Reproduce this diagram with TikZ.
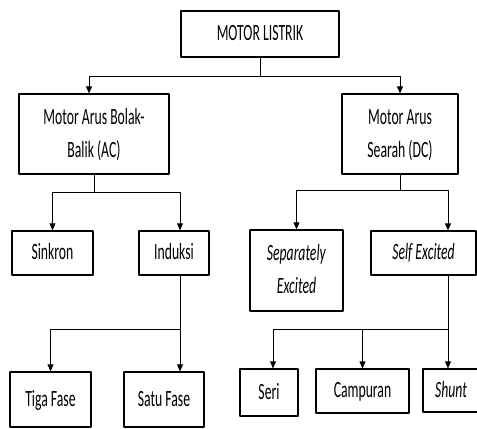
\documentclass[tikz,border=0pt]{standalone}
\usepackage{fontspec}
\setmainfont{Carlito}
\usepackage{graphicx}
\usetikzlibrary{arrows.meta,calc}
\newcommand{\tinggi}[1]{\scalebox{1}[1.7]{\begin{tabular}{@{}c@{}}#1\end{tabular}}}
\begin{document}
\begin{tikzpicture}[>={Triangle[length=6pt,width=5pt]},line join=round,x=0.03cm,y=-0.03cm,
  font=\fontsize{11.7}{16.6}\selectfont,
  kotak/.style={draw,line width=.9pt,inner sep=0pt},
  panah/.style={->,line width=.8pt}]
\def\px{0.03cm}
\useasboundingbox (0,0) rectangle (477,429);
\clip (0,0) rectangle (477,429);
% kotak-kotak
\node[kotak,minimum width=158*\px,minimum height=46*\px] (motor) at (260,34) {\tinggi{MOTOR LISTRIK}};
\node[kotak,minimum width=150*\px,minimum height=80*\px] (ac) at (94,134) {\tinggi{Motor Arus Bolak-\\Balik (AC)}};
\node[kotak,minimum width=116*\px,minimum height=80*\px] (dc) at (400,134) {\tinggi{Motor Arus\\Searah (DC)}};
\node[kotak,minimum width=81*\px,minimum height=44*\px] (sinkron) at (52.5,253) {\tinggi{Sinkron}};
\node[kotak,minimum width=70*\px,minimum height=44*\px] (induksi) at (174,253) {\tinggi{Induksi}};
\node[kotak,minimum width=93*\px,minimum height=81*\px] (separately) at (296.5,270.5) {\tinggi{\textit{Separately}\\\textit{Excited}}};
\node[kotak,minimum width=105*\px,minimum height=44*\px] (self) at (423.5,253) {\tinggi{\textit{Self Excited}}};
\node[kotak,minimum width=81*\px,minimum height=55*\px] (tiga) at (50.5,399.5) {\tinggi{Tiga Fase}};
\node[kotak,minimum width=80*\px,minimum height=55*\px] (satu) at (164,399.5) {\tinggi{Satu Fase}};
\node[kotak,minimum width=58*\px,minimum height=47*\px] (seri) at (269,392.5) {\tinggi{Seri}};
\node[kotak,minimum width=93*\px,minimum height=44*\px] (campuran) at (362.5,391) {\tinggi{Campuran}};
\node[kotak,minimum width=56*\px,minimum height=43*\px] (shunt) at (451,390.5) {\tinggi{\textit{Shunt}}};
% penghubung
\draw[line width=.8pt] (motor.south) -- ++(0,19) coordinate (c1);
\draw[panah] (c1) -| ($(ac.north)+(-5,0)$);
\draw[panah] (c1) -| (dc.north);
\draw[line width=.8pt] (ac.south) -- ++(0,18) coordinate (c2);
\draw[panah] (c2) -| (sinkron.north);
\draw[panah] (c2) -| ($(induksi.north)+(6,0)$);
\draw[panah] ($(induksi.south)+(6,0)$) coordinate (c3) -- (c3 |- satu.north);
\draw[panah] ($(c3)+(0,54)$) -| (tiga.north);
\draw[line width=.8pt] (dc.south) -- ++(0,16) coordinate (c4);
\draw[panah] (c4) -| (separately.north);
\draw[panah] (c4) -| ($(self.north)+(24.5,0)$);
\draw[panah] ($(self.south)+(24.5,0)$) coordinate (c5) -- (c5 |- shunt.north);
\draw[panah] ($(c5)+(0,54)$) -| ($(seri.north)+(4,0)$);
\draw[panah] ($(c5)+(0,54)$) -| (campuran.north);
\end{tikzpicture}
\end{document}
